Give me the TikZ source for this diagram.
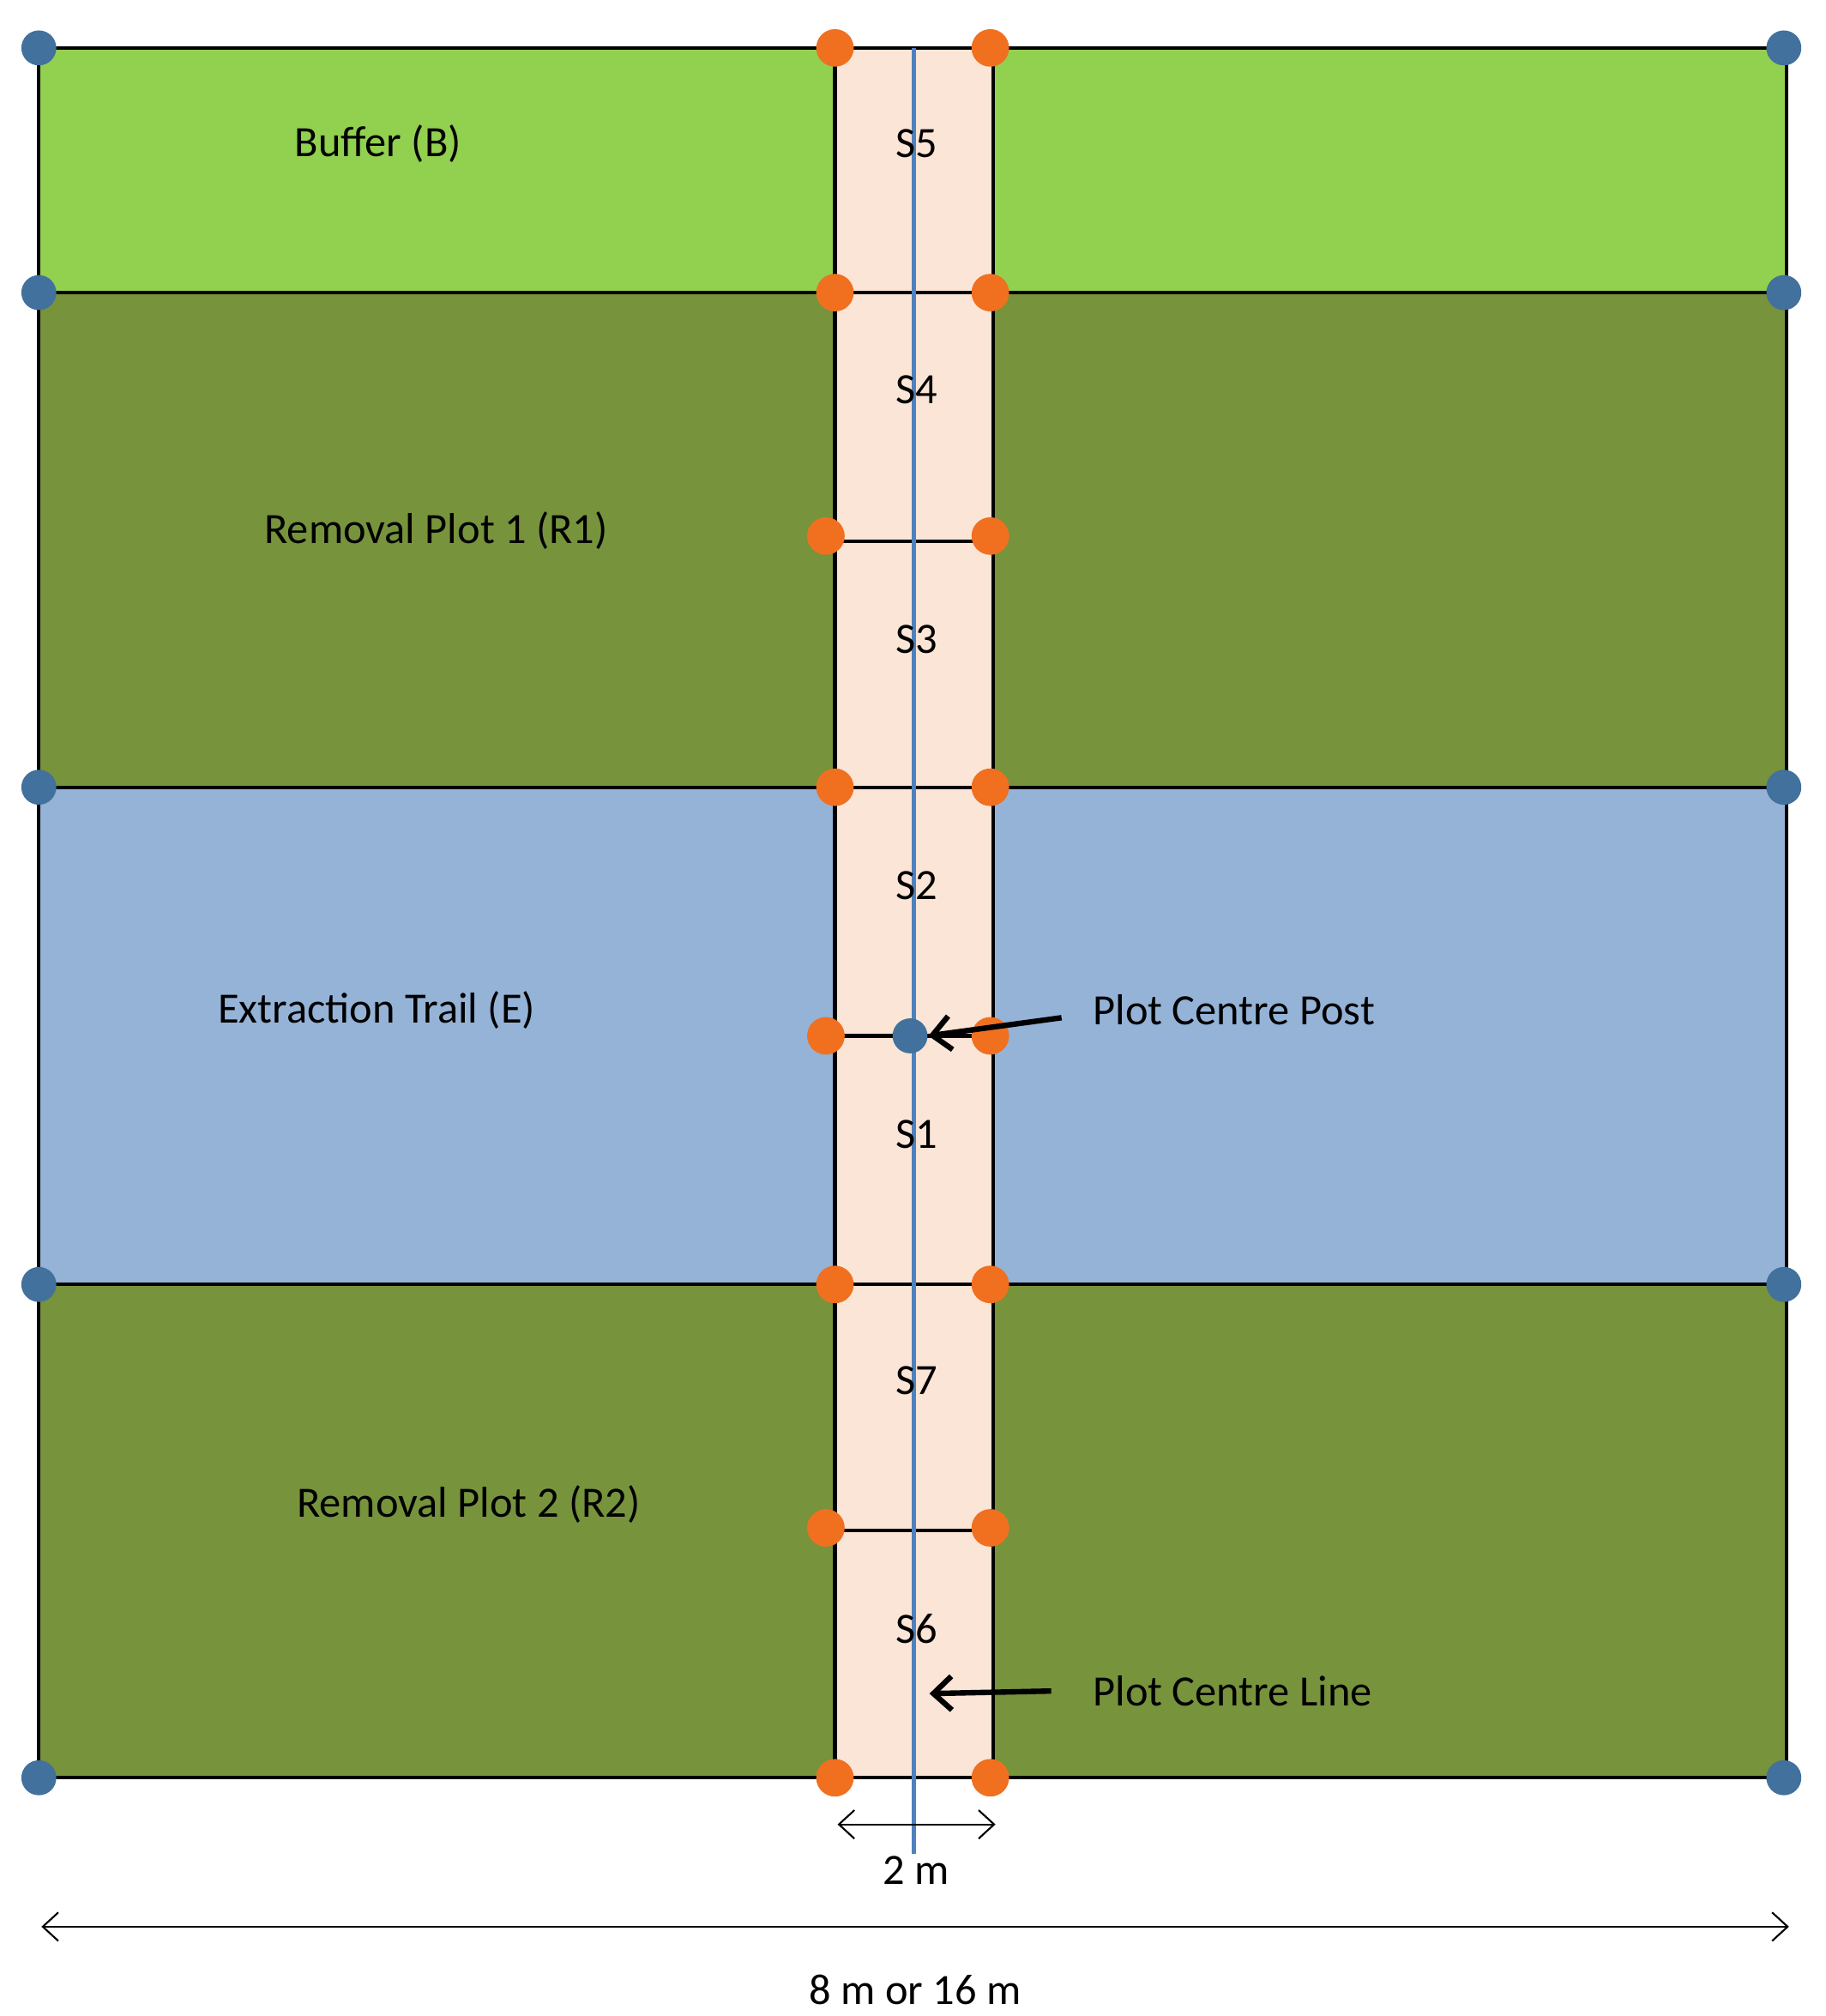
\documentclass[tikz,border=0pt]{standalone}
\usepackage{fontspec}
\setmainfont{Carlito}
\usepackage{tikz}
\usetikzlibrary{arrows.meta}
\definecolor{BufferGreen}{HTML}{92D050}
\definecolor{RemovalGreen}{HTML}{77933C}
\definecolor{TrailBlue}{HTML}{95B3D7}
\definecolor{StripPink}{HTML}{FBE5D6}
\definecolor{PostOrange}{HTML}{F07020}
\definecolor{PostBlue}{HTML}{41719C}
\definecolor{LineBlue}{HTML}{4F81BD}
\tikzset{
    corner/.style = {circle, fill = PostBlue, inner sep = 0pt, minimum size = 0.27cm},
    stake/.style = {circle, fill = PostOrange, inner sep = 0pt, minimum size = 0.29cm},
    lbl/.style = {font = \fontsize{9.5}{11}\selectfont},
    dim/.style = {{Straight Barb[length = 1.2mm, width = 2.2mm]}-{Straight Barb[length = 1.2mm, width = 2.2mm]}, thin}
}

\begin{document}
\begin{tikzpicture}[x = 0.01cm, y = -0.01cm]
    \useasboundingbox (0, 0) rectangle (1410, 1557);
    % plot bands
    \filldraw [fill = BufferGreen, draw = black, thick] (30, 37) rectangle (1380, 226);
    \filldraw [fill = RemovalGreen, draw = black, thick] (30, 226) rectangle (1380, 608);
    \filldraw [fill = TrailBlue, draw = black, thick] (30, 608) rectangle (1380, 992);
    \filldraw [fill = RemovalGreen, draw = black, thick] (30, 992) rectangle (1380, 1373);
    % centre strip
    \filldraw [fill = StripPink, draw = black, thick] (645, 37) rectangle (767, 1373);
    \foreach \y in {226, 418, 608, 800, 992, 1182}
        \draw [thick] (645, \y) -- (767, \y);
    \draw [LineBlue, thick] (706, 37) -- (706, 1432);
    % labels
    \node [lbl] at (292, 111) {Buffer (B)};
    \node [lbl] at (337, 410) {Removal Plot 1 (R1)};
    \node [lbl] at (291, 780) {Extraction Trail (E)};
    \node [lbl] at (362, 1162) {Removal Plot 2 (R2)};
    \foreach \s/\y in {S5/111, S4/301, S3/494, S2/684, S1/876, S7/1066, S6/1258}
        \node [lbl] at (708, \y) {\s};
    % stakes and corners
    \foreach \y in {37, 226, 608, 992, 1373}
    {
        \node [corner] at (30, \y) {};
        \node [corner] at (1378, \y) {};
        \node [stake] at (645, \y) {};
        \node [stake] at (765, \y) {};
    }
    \foreach \y in {414, 800, 1180}
    {
        \node [stake] at (638, \y) {};
        \node [stake] at (765, \y) {};
    }
    \node [corner] (post) at (703, 800) {};
    % callouts
    \node [lbl, anchor = west] (postlbl) at (832, 780) {Plot Centre Post};
    \node [lbl, anchor = west] (linelbl) at (832, 1306) {Plot Centre Line};
    \coordinate (lineend) at (718, 1308);
    \draw [-{Straight Barb[length = 1.4mm, width = 2.6mm]}, very thick] (postlbl.west) ++(-12, 6) -- (post.east);
    \draw [-{Straight Barb[length = 1.4mm, width = 2.6mm]}, very thick] (linelbl.west) ++(-20, 0) -- (lineend);
    % dimensions
    \coordinate (sl) at (647, 1409);
    \coordinate (sr) at (769, 1409);
    \draw [dim] (sl) -- (sr) node [lbl, midway, below = 0.12cm] {2 m};
    \coordinate (wl) at (32, 1488);
    \coordinate (wr) at (1382, 1488);
    \draw [dim] (wl) -- (wr) node [lbl, midway, below = 0.25cm] {8 m or 16 m};
\end{tikzpicture}
\end{document}
